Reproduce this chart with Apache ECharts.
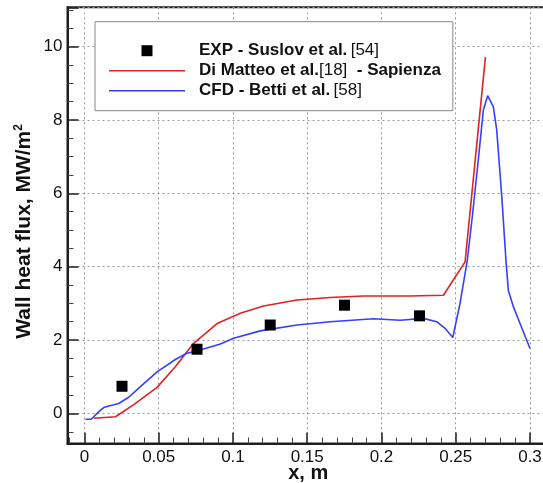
<!DOCTYPE html>
<html>
<head>
<meta charset="utf-8">
<script src="https://cdn.jsdelivr.net/npm/echarts@6/dist/echarts.min.js"></script>
<style>
    html, body { margin: 0; padding: 0; background: #fff; }
    #chart { width: 543px; height: 483px; }
</style>
</head>
<body>
<div id="chart"></div>
<script>
// 实验数据 EXP - Suslov et al. [54]
var expX = [0.0253, 0.0758, 0.1251, 0.1751, 0.2256];
var expY = [0.74, 1.75, 2.41, 2.95, 2.66];

// Di Matteo et al. [18] - Sapienza
var matteoX = [0.0063, 0.0209, 0.0332, 0.0489, 0.0612, 0.0735, 0.0893, 0.1049, 0.1206, 0.1431, 0.1655, 0.1879, 0.2193, 0.2417, 0.2563, 0.2700];
var matteoY = [-0.13, -0.09, 0.24, 0.71, 1.27, 1.91, 2.45, 2.73, 2.93, 3.09, 3.16, 3.20, 3.20, 3.22, 4.13, 9.71];

// CFD - Betti et al. [58]
var bettiX = [0.0007, 0.0045, 0.0108, 0.0130, 0.0164, 0.0231, 0.0298, 0.0377, 0.0489, 0.0612, 0.0690, 0.0780, 0.0915, 0.1004, 0.1184, 0.1431, 0.1655, 0.1946, 0.2126, 0.2282, 0.2372, 0.2428, 0.2480, 0.2529, 0.2578, 0.2614, 0.2652, 0.2686, 0.2715, 0.2753, 0.2776, 0.2810, 0.2838, 0.2854, 0.2888, 0.2933, 0.3000];
var bettiY = [-0.16, -0.16, 0.09, 0.16, 0.20, 0.27, 0.44, 0.73, 1.13, 1.47, 1.64, 1.73, 1.89, 2.05, 2.25, 2.41, 2.50, 2.58, 2.54, 2.59, 2.50, 2.32, 2.07, 3.00, 4.18, 5.45, 6.91, 8.27, 8.66, 8.36, 7.73, 5.91, 4.18, 3.36, 2.91, 2.45, 1.77];

var seriesNames = ['EXP - Suslov et al.', 'Di Matteo et al.', 'CFD - Betti et al.'];
var legendLabels = [
    '{b|EXP - Suslov et al.} {r|[54]}',
    '{b|Di Matteo et al.}{r|[18]}{b|  - Sapienza}',
    '{b|CFD - Betti et al.} {r|[58]}'
];

function zip(xs, ys) {
    var out = [];
    for (var i = 0; i < xs.length; i++) {
        out.push([xs[i], ys[i]]);
    }
    return out;
}

var myChart = echarts.init(document.getElementById('chart'));
var fontFamily = '"Liberation Sans", Arial, sans-serif';
var option = {
    animation: false,
    backgroundColor: '#fff',
    textStyle: {fontFamily: fontFamily},
    grid: {
        left: 67.5,
        right: -6,
        top: 7.3,
        bottom: 39.5,
        show: true,
        borderColor: '#1e1e1e',
        borderWidth: 2,
        outerBoundsMode: 'none',
        containLabel: false
    },
    legend: {
        left: 95,
        top: 21.7,
        orient: 'vertical',
        itemWidth: 76,
        itemHeight: 11,
        itemGap: 0,
        padding: [19, 12, 10, 14],
        backgroundColor: '#fff',
        borderColor: '#888',
        borderWidth: 1,
        borderRadius: 0,
        data: [
            {name: seriesNames[0], icon: 'path://M0,0H10V10H0Z'},
            {name: seriesNames[1], icon: 'path://M0,0H76V1.6H0Z'},
            {name: seriesNames[2], icon: 'path://M0,0H76V1.6H0Z'}
        ],
        formatter: function (name) {
            return legendLabels[seriesNames.indexOf(name)];
        },
        textStyle: {
            lineHeight: 20,
            padding: [0, 0, 0, 9],
            rich: {
                b: {fontSize: 17, fontWeight: 'bold', color: '#111', fontFamily: fontFamily, lineHeight: 20},
                r: {fontSize: 17, color: '#111', fontFamily: fontFamily, lineHeight: 20}
            }
        }
    },
    xAxis: {
        type: 'value',
        min: -0.0114,
        max: 0.3128,
        splitNumber: 6,
        name: 'x, m',
        nameLocation: 'middle',
        nameGap: 20,
        nameMoveOverlap: false,
        nameTextStyle: {fontSize: 20, fontWeight: 'bold', color: '#111', fontFamily: fontFamily},
        axisLine: {show: true, onZero: false, lineStyle: {color: '#1e1e1e', width: 2}},
        axisTick: {show: true, inside: true, length: 11, lineStyle: {color: '#1e1e1e', width: 1.5}},
        minorTick: {show: true, splitNumber: 5, length: 6, lineStyle: {color: '#444', width: 1}},
        axisLabel: {fontSize: 17, color: '#111', margin: 5, showMinLabel: false, showMaxLabel: false, fontFamily: fontFamily},
        splitLine: {show: true, lineStyle: {color: '#999', width: 1, type: [2, 3]}}
    },
    yAxis: {
        type: 'value',
        min: -0.82,
        max: 11.07,
        splitNumber: 5,
        name: '{a|Wall heat flux, MW/m}{s|2}',
        nameLocation: 'middle',
        nameGap: 32,
        nameMoveOverlap: false,
        nameTextStyle: {
            padding: [0, 12, 0, 0],
            rich: {
                a: {fontSize: 21, fontWeight: 'bold', color: '#111', fontFamily: fontFamily, lineHeight: 23},
                s: {fontSize: 12, fontWeight: 'bold', color: '#111', fontFamily: fontFamily, verticalAlign: 'top', lineHeight: 23}
            }
        },
        axisLine: {show: true, onZero: false, lineStyle: {color: '#1e1e1e', width: 2}},
        axisTick: {show: true, inside: true, length: 11, lineStyle: {color: '#1e1e1e', width: 1.5}},
        minorTick: {show: true, splitNumber: 4, length: 6, lineStyle: {color: '#444', width: 1}},
        axisLabel: {fontSize: 17, color: '#111', margin: 5, showMinLabel: false, showMaxLabel: false, fontFamily: fontFamily},
        splitLine: {show: true, lineStyle: {color: '#999', width: 1, type: [2, 3]}}
    },
    series: [
        {
            name: seriesNames[0],
            type: 'scatter',
            symbol: 'rect',
            symbolSize: 11,
            itemStyle: {color: '#000', opacity: 1},
            data: zip(expX, expY),
            z: 5
        },
        {
            name: seriesNames[1],
            type: 'line',
            showSymbol: false,
            color: '#e02222',
            lineStyle: {color: '#e02222', width: 1.6},
            itemStyle: {color: '#e02222'},
            data: zip(matteoX, matteoY)
        },
        {
            name: seriesNames[2],
            type: 'line',
            showSymbol: false,
            color: '#3340ff',
            lineStyle: {color: '#3340ff', width: 1.6},
            itemStyle: {color: '#3340ff'},
            data: zip(bettiX, bettiY)
        }
    ]
};
myChart.setOption(option, true);
</script>
</body>
</html>
